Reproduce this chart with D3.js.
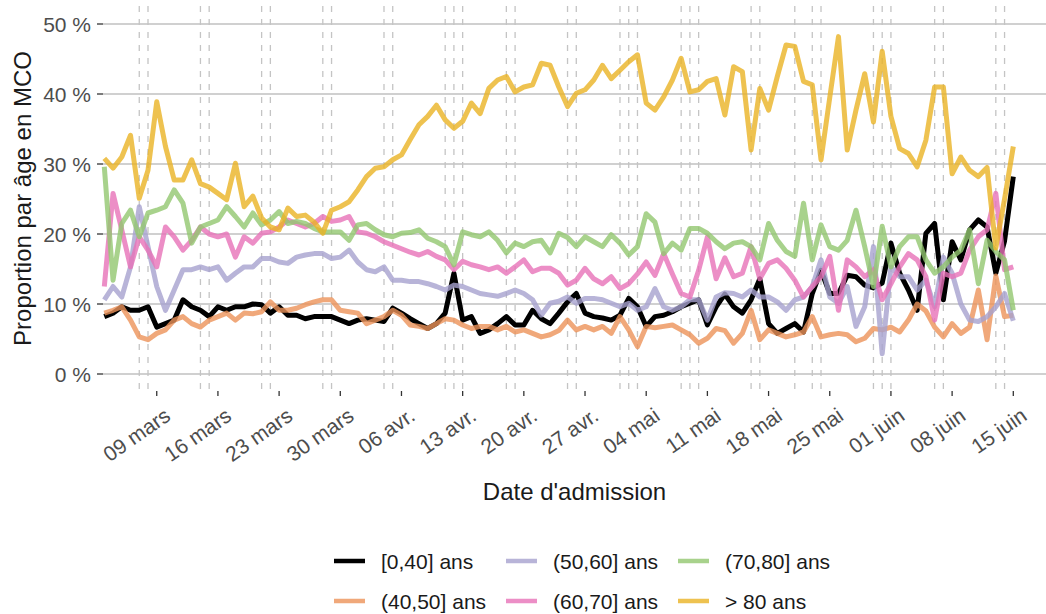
<!DOCTYPE html>
<html lang="fr">
<head>
<meta charset="UTF-8">
<title>Proportion par âge en MCO</title>
<style>
  body { margin: 0; background: #fff; }
  svg { display: block; font-family: "Liberation Sans", Arial, sans-serif; }
  .grid { stroke: #c0c0c0; stroke-width: 1.4px; }
  .ferie { stroke: #c4c4c4; stroke-width: 1.3px; stroke-dasharray: 6,7; }
  .tick { stroke: #333; stroke-width: 1.3px; }
  .tick-label { fill: #4d4d4d; font-size: 21px; }
  .axis-title { fill: #1a1a1a; font-size: 24px; }
  .serie { fill: none; stroke-width: 5px; stroke-linejoin: round; }
  .legend text { font-size: 21px; fill: #1a1a1a; }
</style>
</head>
<body>
<script src="https://d3js.org/d3.v7.min.js"></script>
<script>
// premier jour de la série, puis une valeur par jour
const startDate = new Date(2020, 2, 3);

const groups = ["[0,40] ans", "(40,50] ans", "(50,60] ans", "(60,70] ans", "(70,80] ans", "> 80 ans"];
const colors = ["#000000", "#ec9259", "#a6a1ce", "#e772b8", "#92c76f", "#eab324"];

const age0_40 = [
  8.2, 8.7, 9.6, 9.1, 9.1, 9.6, 6.7, 7.2, 7.7, 10.6, 9.6, 9.1, 8.2, 9.6, 9.1, 9.6, 9.6, 10.0, 9.9,
  8.7, 9.6, 8.4, 8.4, 7.9, 8.2, 8.2, 8.2, 7.7, 7.2, 7.7, 7.9, 7.7, 7.5, 9.4, 8.7, 7.9,
  7.2, 6.5, 7.2, 8.7, 14.4, 7.7, 8.2, 5.8, 6.3, 7.2, 8.2, 7.0, 7.0, 9.1, 7.9, 7.2, 8.7, 10.3,
  11.5, 8.7, 8.2, 8.0, 7.7, 8.4, 10.8, 9.6, 6.8, 8.2, 8.4, 8.9, 9.6, 10.1, 10.6, 7.0, 9.6, 11.4,
  9.6, 8.7, 10.6, 13.6, 7.2, 5.8, 6.5, 7.2, 6.0, 11.5, 14.8, 11.5, 11.5, 14.1, 13.9, 12.7, 12.3,
  13.0, 18.7, 14.4, 12.0, 9.1, 20.1, 21.5, 10.6, 18.9, 16.3, 20.6, 22.0, 21.0, 14.4, 19.0, 28.2
];
const age40_50 = [
  8.7, 9.1, 9.6, 7.7, 5.3, 4.9, 5.8, 6.3, 7.7, 8.2, 7.2, 6.7, 7.7, 8.2, 8.7, 7.7, 8.7, 8.6, 8.9,
  10.3, 9.1, 9.1, 9.4, 9.9, 10.3, 10.6, 10.6, 9.1, 8.9, 8.7, 7.2, 7.7, 8.2, 9.1, 8.4, 7.0,
  6.8, 6.5, 7.2, 7.9, 7.7, 7.0, 6.5, 6.8, 6.8, 6.3, 6.8, 6.0, 6.3, 5.8, 5.3, 5.6, 6.2, 7.7,
  6.3, 6.8, 6.3, 6.8, 5.8, 8.2, 6.3, 3.9, 6.8, 6.6, 6.8, 7.0, 6.3, 5.6, 4.4, 5.1, 6.5, 6.2,
  4.4, 5.8, 9.1, 4.9, 6.3, 5.8, 5.3, 5.6, 6.0, 8.2, 5.3, 5.6, 5.8, 5.6, 4.6, 5.1, 6.5,
  6.3, 6.7, 6.0, 7.7, 10.0, 9.0, 6.7, 5.3, 7.2, 5.8, 6.7, 12.0, 4.9, 14.0, 8.2, 8.4
];
const age50_60 = [
  10.6, 12.5, 11.0, 15.3, 23.9, 18.2, 12.5, 9.1, 12.0, 14.9, 14.9, 15.3, 14.9, 15.3, 13.4, 14.4, 15.3, 15.3, 16.5,
  16.5, 16.0, 15.8, 16.7, 17.0, 17.2, 17.2, 16.5, 16.7, 17.7, 16.0, 14.9, 14.6, 15.3, 13.4, 13.4, 13.2,
  13.2, 12.9, 12.5, 12.0, 12.7, 12.5, 12.0, 11.5, 11.3, 11.1, 11.5, 12.0, 11.5, 10.6, 8.4, 10.1, 10.4, 11.0,
  10.1, 10.8, 10.8, 10.6, 10.1, 9.6, 10.1, 9.1, 9.6, 12.2, 9.6, 9.1, 9.6, 10.6, 10.6, 7.7, 11.0, 11.6,
  11.5, 11.0, 12.0, 11.0, 11.0, 10.3, 9.1, 10.6, 11.0, 12.5, 16.3, 11.0, 10.1, 12.5, 6.8, 9.6, 18.2,
  2.9, 15.3, 13.9, 13.9, 12.0, 13.4, 9.6, 16.7, 14.4, 10.0, 7.7, 7.5, 8.2, 9.6, 11.5, 7.6
];
const age60_70 = [
  12.5, 25.8, 20.6, 15.3, 19.6, 17.7, 15.3, 21.0, 19.6, 17.7, 19.1, 21.0, 20.0, 19.6, 20.0, 16.7, 19.6, 18.7, 20.1,
  20.3, 21.0, 22.0, 21.5, 21.0, 21.5, 22.5, 21.8, 22.0, 22.5, 20.3, 20.1, 19.6, 18.9, 18.4, 17.9, 17.4,
  17.0, 17.5, 16.8, 16.3, 14.9, 16.1, 15.6, 15.3, 14.9, 15.3, 14.4, 15.3, 16.3, 14.6, 15.1, 15.1, 14.4, 12.7,
  13.4, 15.1, 13.6, 12.9, 13.9, 12.2, 12.9, 14.3, 16.0, 14.1, 17.2, 14.3, 11.5, 11.0, 14.8, 19.6, 13.6, 16.6,
  13.9, 14.4, 18.2, 13.6, 15.8, 16.3, 15.1, 13.4, 11.0, 12.5, 13.9, 16.8, 9.1, 16.3, 15.3, 13.9, 14.9,
  10.6, 12.9, 15.3, 17.2, 16.3, 13.9, 7.7, 14.4, 13.9, 14.4, 17.7, 19.6, 20.6, 25.8, 14.9, 15.3
];
const age70_80 = [
  29.6, 13.4, 21.5, 23.4, 19.6, 23.0, 23.4, 23.9, 26.3, 24.4, 18.7, 21.0, 21.5, 22.0, 23.9, 22.5, 21.0, 23.0, 21.3,
  22.0, 23.2, 21.5, 21.8, 21.5, 20.8, 20.3, 20.3, 20.3, 19.1, 21.3, 21.5, 20.6, 19.9, 19.6, 20.1, 20.2,
  20.6, 19.4, 18.9, 18.2, 15.6, 20.3, 19.9, 19.6, 20.3, 19.1, 17.3, 18.7, 18.2, 18.9, 19.1, 17.3, 20.1, 19.5,
  18.2, 19.6, 18.9, 18.2, 19.9, 18.7, 17.0, 18.2, 22.9, 21.7, 17.2, 18.7, 17.7, 20.8, 20.8, 20.1, 18.9, 17.9,
  18.7, 18.9, 18.2, 16.3, 21.5, 19.1, 17.5, 16.8, 24.4, 16.3, 21.3, 18.2, 17.7, 19.1, 23.4, 18.2, 12.5,
  21.1, 15.3, 18.2, 19.6, 19.6, 16.3, 14.4, 15.3, 16.7, 17.7, 20.6, 12.9, 19.1, 17.5, 16.3, 9.1
];
const age80plus = [
  30.8, 29.4, 31.0, 34.1, 25.1, 29.1, 38.9, 32.5, 27.7, 27.7, 30.6, 27.2, 26.7, 25.8, 24.9, 30.1, 23.9, 25.4, 22.3,
  21.0, 20.6, 23.7, 22.5, 22.7, 21.7, 20.1, 23.4, 23.9, 24.6, 26.3, 28.2, 29.4, 29.6, 30.6, 31.3, 33.5,
  35.6, 36.8, 38.4, 36.3, 35.1, 36.1, 38.7, 37.2, 40.8, 42.0, 42.5, 40.3, 41.0, 41.3, 44.4, 44.1, 41.0, 38.2,
  40.1, 40.6, 42.0, 44.1, 42.2, 43.4, 44.6, 45.6, 38.7, 37.7, 39.6, 42.0, 45.1, 40.3, 40.6, 41.8, 42.2, 37.0,
  43.9, 43.2, 32.0, 40.8, 37.7, 42.5, 47.0, 46.8, 41.8, 41.3, 30.6, 39.5, 48.2, 32.0, 37.7, 42.9, 36.0,
  46.1, 36.8, 32.2, 31.5, 29.6, 33.4, 41.0, 41.0, 28.6, 31.0, 29.1, 28.2, 29.5, 18.0, 25.0, 32.5
];

// jours fériés (les week-ends sont ajoutés plus bas)
const holidays = ["2020-04-13", "2020-05-01", "2020-05-08", "2020-05-21", "2020-06-01"];
const yTicks = [0, 10, 20, 30, 40, 50];

const series = [age0_40, age40_50, age50_60, age60_70, age70_80, age80plus];

const width = 1046, height = 614;
const panel = { left: 103, right: 1046, top: 6, bottom: 391 };

const fr = d3.timeFormatLocale({
  dateTime: "%A %e %B %Y à %X", date: "%d/%m/%Y", time: "%H:%M:%S",
  periods: ["AM", "PM"],
  days: ["dimanche", "lundi", "mardi", "mercredi", "jeudi", "vendredi", "samedi"],
  shortDays: ["dim.", "lun.", "mar.", "mer.", "jeu.", "ven.", "sam."],
  months: ["janvier", "février", "mars", "avril", "mai", "juin", "juillet", "août", "septembre", "octobre", "novembre", "décembre"],
  shortMonths: ["janv.", "févr.", "mars", "avr.", "mai", "juin", "juil.", "août", "sept.", "oct.", "nov.", "déc."]
});
const fmt = fr.format("%d %b");

const day = i => d3.timeDay.offset(startDate, i);
const endDate = day(age0_40.length - 1);

const x = d3.scaleTime().domain([startDate, endDate]).range([104.3, 1013.3]);
const y = d3.scaleLinear().domain([0, 50]).range([374, 24]);

const svg = d3.select("body").append("svg")
  .attr("width", width)
  .attr("height", height);

// grille horizontale
svg.append("g").selectAll("line")
  .data(yTicks)
  .join("line")
  .attr("class", "grid")
  .attr("x1", panel.left).attr("x2", panel.right)
  .attr("y1", d => y(d)).attr("y2", d => y(d));

// week-ends et jours fériés en pointillés
const saturdays = d3.timeSaturday.range(startDate, d3.timeDay.offset(endDate, 1));
const sundays = d3.timeSunday.range(startDate, d3.timeDay.offset(endDate, 1));
const feries = saturdays.concat(sundays, holidays.map(d3.timeParse("%Y-%m-%d")));

svg.append("g").selectAll("line")
  .data(feries)
  .join("line")
  .attr("class", "ferie")
  .attr("x1", d => x(d)).attr("x2", d => x(d))
  .attr("y1", panel.top).attr("y2", panel.bottom);

// graduations y
svg.append("g").selectAll("line")
  .data(yTicks)
  .join("line")
  .attr("class", "tick")
  .attr("x1", panel.left - 6).attr("x2", panel.left)
  .attr("y1", d => y(d)).attr("y2", d => y(d));

svg.append("g").selectAll("text")
  .data(yTicks)
  .join("text")
  .attr("class", "tick-label")
  .attr("x", 91)
  .attr("y", d => y(d))
  .attr("dy", "0.36em")
  .attr("text-anchor", "end")
  .text(d => d + " %");

// graduations x : les lundis
const mondays = d3.timeMonday.range(startDate, d3.timeDay.offset(endDate, 1));

svg.append("g").selectAll("line")
  .data(mondays)
  .join("line")
  .attr("class", "tick")
  .attr("x1", d => x(d)).attr("x2", d => x(d))
  .attr("y1", panel.bottom).attr("y2", panel.bottom + 5);

svg.append("g").selectAll("text")
  .data(mondays)
  .join("text")
  .attr("class", "tick-label")
  .attr("text-anchor", "end")
  .attr("transform", d => `translate(${x(d) + 6},${panel.bottom + 15}) rotate(-35)`)
  .attr("dy", "0.75em")
  .text(d => fmt(d));

// courbes
const line = d3.line()
  .x((d, i) => x(day(i)))
  .y(d => y(d));

svg.append("g").selectAll("path")
  .data(series)
  .join("path")
  .attr("class", "serie")
  .attr("stroke", (d, i) => colors[i])
  .attr("stroke-opacity", (d, i) => i === 0 ? 1 : 0.8)
  .attr("d", line);

// titres des axes
svg.append("text")
  .attr("class", "axis-title")
  .attr("x", (panel.left + panel.right) / 2)
  .attr("y", 500)
  .attr("text-anchor", "middle")
  .text("Date d'admission");

svg.append("text")
  .attr("class", "axis-title")
  .attr("transform", `translate(31,${(panel.top + panel.bottom) / 2}) rotate(-90)`)
  .attr("text-anchor", "middle")
  .text("Proportion par âge en MCO");

// légende : 3 colonnes, 2 lignes, remplie par colonne
const colX = [334, 506, 678];
const rowY = [561, 601];

const legend = svg.append("g").attr("class", "legend")
  .selectAll("g")
  .data(groups)
  .join("g")
  .attr("transform", (d, i) => `translate(${colX[Math.floor(i / 2)]},${rowY[i % 2]})`);

legend.append("line")
  .attr("x1", 0).attr("x2", 31)
  .attr("stroke", (d, i) => colors[i])
  .attr("stroke-opacity", (d, i) => i === 0 ? 1 : 0.8)
  .attr("stroke-width", 4.5);

legend.append("text")
  .attr("x", 47)
  .attr("dy", "0.36em")
  .text(d => d);
</script>
</body>
</html>
